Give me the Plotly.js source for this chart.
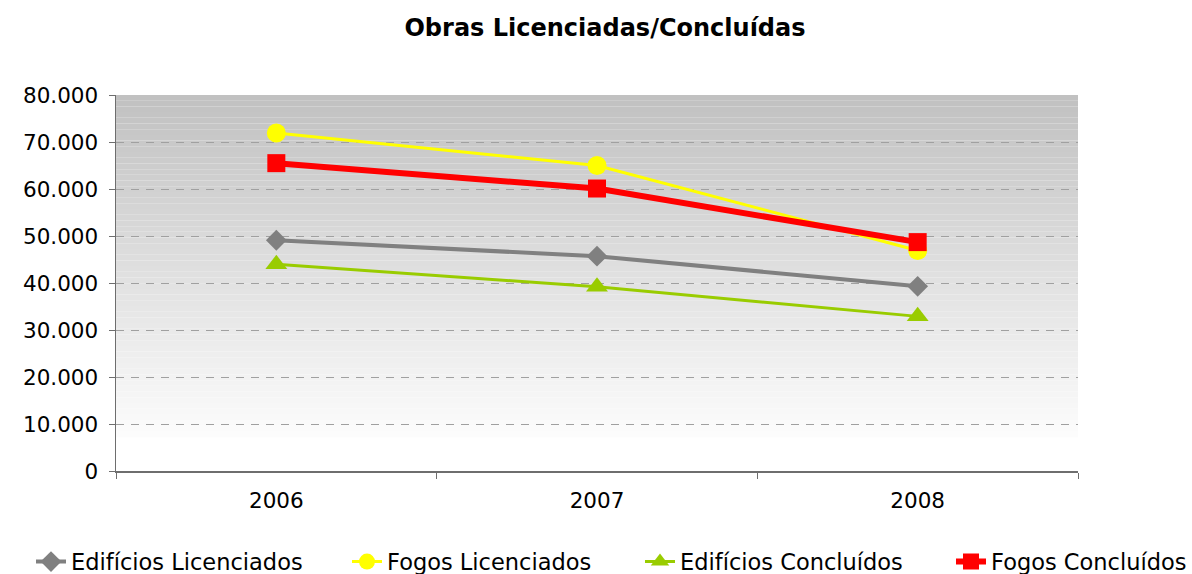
<!DOCTYPE html>
<html>
<head>
<meta charset="utf-8">
<script src="https://cdn.plot.ly/plotly-3.0.1.min.js"></script>
<style>html,body{margin:0;padding:0;background:#fff;}#chart{width:1192px;height:574px;}</style>
</head>
<body>
<div id="chart"></div>
<script>
var categories = ['2006', '2007', '2008'];
var edificiosLicenciados = [49100, 45700, 39300];
var fogosLicenciados = [71900, 65000, 46900];
var edificiosConcluidos = [44000, 39200, 32900];
var fogosConcluidos = [65500, 60100, 48700];
var yTicks = [0, 10000, 20000, 30000, 40000, 50000, 60000, 70000, 80000];

var traces = [
  {x: categories, y: edificiosLicenciados, name: 'Edifícios Licenciados', type: 'scatter', mode: 'lines+markers', legend: 'legend',
   line: {color: '#808080', width: 4}, marker: {symbol: 'diamond', size: 16, color: '#808080'}},
  {x: categories, y: fogosLicenciados, name: 'Fogos Licenciados', type: 'scatter', mode: 'lines+markers', legend: 'legend2',
   line: {color: '#ffff00', width: 3}, marker: {symbol: 'circle', size: 19, color: '#ffff00'}},
  {x: categories, y: edificiosConcluidos, name: 'Edifícios Concluídos', type: 'scatter', mode: 'lines+markers', legend: 'legend3',
   line: {color: '#99cc00', width: 3}, marker: {symbol: 'triangle-up', size: 19, color: '#99cc00'}},
  {x: categories, y: fogosConcluidos, name: 'Fogos Concluídos', type: 'scatter', mode: 'lines+markers', legend: 'legend4',
   line: {color: '#ff0000', width: 6}, marker: {symbol: 'square', size: 18, color: '#ff0000'}}
];

// gradient background stripes
var shapes = [];
var n = 60;
var gradEnd = 0.09;
for (var i = 0; i < n; i++) {
  var y0 = gradEnd + (1 - gradEnd) * i / n;
  var y1 = gradEnd + (1 - gradEnd) * (i + 1) / n;
  var t = (i + 0.5) / n;
  var v = Math.round(253 - (253 - 192) * t);
  shapes.push({type: 'rect', xref: 'paper', yref: 'paper', x0: 0, x1: 1, y0: y0, y1: y1,
    fillcolor: 'rgb(' + v + ',' + v + ',' + v + ')', line: {width: 0}, layer: 'below'});
}

var W = 1192;
function leg(textStartPx) {
  return {orientation: 'h', x: (textStartPx - 41 - 116) / (W - 116 - 114), xanchor: 'left', y: -0.242, yanchor: 'middle',
    font: {size: 22.5, color: '#000'}, itemwidth: 30, bgcolor: 'rgba(0,0,0,0)', borderwidth: 0};
}

var layout = {
  width: 1192, height: 574,
  margin: {l: 116, r: 114, t: 95, b: 103, autoexpand: false},
  paper_bgcolor: '#ffffff',
  plot_bgcolor: 'rgba(0,0,0,0)',
  separators: ',.',
  font: {family: 'DejaVu Sans, Verdana, sans-serif', size: 21.5, color: '#000'},
  title: {text: '<b>Obras Licenciadas/Concluídas</b>', x: 605 / 1192, xanchor: 'center', y: 1 - 28 / 574, yanchor: 'middle',
    font: {family: 'DejaVu Sans, Verdana, sans-serif', size: 24, color: '#000'}},
  xaxis: {type: 'category', range: [-0.5, 2.5], tickson: 'boundaries', ticks: 'outside', ticklen: 6,
    tickcolor: '#6e6e6e', showline: true, linecolor: '#6e6e6e', linewidth: 1.5, showgrid: false,
    ticklabelstandoff: 10, tickfont: {size: 21.5}, fixedrange: true},
  yaxis: {range: [0, 80000], tickvals: yTicks, tickformat: ',d', ticks: 'outside', ticklen: 6, tickcolor: '#6e6e6e',
    showline: true, linecolor: '#6e6e6e', linewidth: 1.5, showgrid: true, gridcolor: '#a0a0a0', griddash: '8px,7px',
    gridwidth: 1, zeroline: false, ticklabelstandoff: 6, tickfont: {size: 21.5}, fixedrange: true},
  showlegend: true,
  legend: leg(72),
  legend2: leg(388),
  legend3: leg(681),
  legend4: leg(992),
  shapes: shapes
};

Plotly.newPlot('chart', traces, layout, {displayModeBar: false, staticPlot: true});
</script>
</body>
</html>
